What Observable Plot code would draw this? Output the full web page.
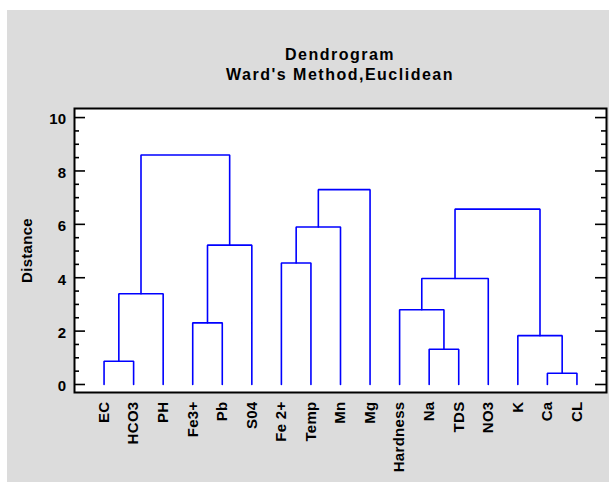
<!DOCTYPE html>
<html><head><meta charset="utf-8">
<script src="https://cdn.jsdelivr.net/npm/d3@7"></script>
<script src="https://cdn.jsdelivr.net/npm/@observablehq/plot@0.6"></script>
<style>
body{margin:0;background:#fff;}
#bg{position:absolute;left:7px;top:10px;width:602px;height:472px;background:#dcdcdc;}
#title{position:absolute;left:74px;width:532px;top:45px;text-align:center;font:bold 16px "Liberation Sans",Arial,sans-serif;letter-spacing:1.5px;line-height:20px;color:#000;}
#chart{position:absolute;left:0;top:0;}
</style></head><body>
<div id="bg"></div>
<div id="title"><div>Dendrogram</div><div>Ward's Method,Euclidean</div></div>
<div id="chart"></div>
<script>
const leaves = ["EC","HCO3","PH","Fe3+","Pb","S04","Fe 2+","Temp","Mn","Mg","Hardness","Na","TDS","NO3","K","Ca","CL"];
// merges: a child is a leaf name or "#k" = the k-th merge
const mergeLeft   = ["EC","#0","Fe3+","#2","#1","Fe 2+","#5","#6","Na","Hardness","#9","Ca","K","#10"];
const mergeRight  = ["HCO3","PH","Pb","S04","#3","Temp","Mn","Mg","TDS","#8","NO3","CL","#11","#12"];
const mergeHeight = [0.87,3.40,2.31,5.22,8.60,4.55,5.90,7.30,1.32,2.80,3.97,0.42,1.83,6.57];
const yMajorTicks = [0,2,4,6,8,10];
const yMinorTicks = [0.5,1,1.5,2.5,3,3.5,4.5,5,5.5,6.5,7,7.5,8.5,9,9.5];

const nodes = [];
function node(ref){ return ref.startsWith("#") ? nodes[+ref.slice(1)] : {x: leaves.indexOf(ref), h: 0}; }
const rows = [];
mergeHeight.forEach((h,k)=>{
  const L = node(mergeLeft[k]), R = node(mergeRight[k]);
  rows.push({id:k,x:L.x,y:L.h},{id:k,x:L.x,y:h},{id:k,x:R.x,y:h},{id:k,x:R.x,y:R.h});
  nodes[k] = {x:(L.x+R.x)/2, h};
});

const W = 532; // frame inner width in px (for tick insets)
const plot = Plot.plot({
  width:609, height:482, marginLeft:74, marginRight:3, marginTop:108, marginBottom:90,
  style:{background:"transparent", fontFamily:'"Liberation Sans", Arial, sans-serif', fontSize:"15px", fontWeight:"bold", color:"#000", letterSpacing:"0.3px", overflow:"visible"},
  x:{domain:[-1,17]},
  y:{domain:[-0.3,10.34]},
  marks:[
    Plot.frame({fill:"white"}),
    Plot.line(rows,{x:"x",y:"y",z:"id",stroke:"#0000ff",strokeWidth:1.6,strokeLinejoin:"miter"}),
    Plot.ruleY(yMajorTicks,{y:d=>d,insetRight:W-11,stroke:"black",strokeWidth:1.6}),
    Plot.ruleY(yMinorTicks,{y:d=>d,insetRight:W-5,stroke:"black",strokeWidth:1.6}),
    Plot.ruleY(yMajorTicks,{y:d=>d,insetLeft:W-11,stroke:"black",strokeWidth:1.6}),
    Plot.ruleY(yMinorTicks,{y:d=>d,insetLeft:W-5,stroke:"black",strokeWidth:1.6}),
    Plot.axisY({ticks:yMajorTicks,tickSize:0,tickPadding:8,label:null,fontSize:15,fontWeight:"bold",dy:2}),
    Plot.axisX({ticks:leaves.map((d,i)=>i),tickFormat:i=>leaves[i],tickRotate:-90,tickSize:0,tickPadding:9,label:null,fontSize:15,fontWeight:"bold"}),
    Plot.text(["Distance"],{frameAnchor:"left",textAnchor:"middle",rotate:-90,dx:-47,fontSize:15,fontWeight:"bold"}),
    Plot.frame({stroke:"black",strokeWidth:2})
  ]
});
document.getElementById("chart").appendChild(plot);
</script>
</body></html>
